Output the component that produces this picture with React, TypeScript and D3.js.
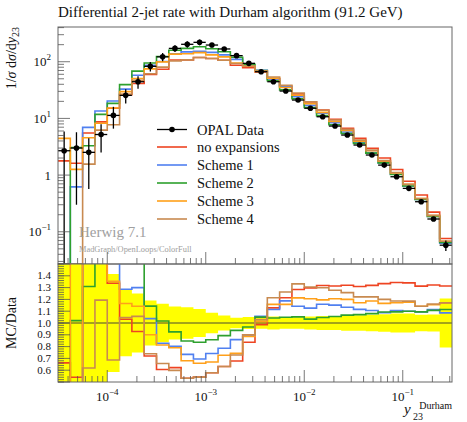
import React from 'react'
import * as d3 from 'd3'

// bin edges in log10(y23)
const binEdgesLog = [
  -4.5, -4.375, -4.25, -4.125, -4, -3.875, -3.75, -3.625, -3.5, -3.375, -3.25,
  -3.125, -3, -2.875, -2.75, -2.625, -2.5, -2.375, -2.25, -2.125, -2, -1.875,
  -1.75, -1.625, -1.5, -1.375, -1.25, -1.125, -1, -0.875, -0.75, -0.625, -0.5
]

const opalData = [
  2.69, 3.0, 2.52, 5.2, 11.3, 25.5, 44.4, 83, 122, 172, 203, 220, 197, 168, 128,
  93.7, 66.7, 44.4, 30.4, 21.1, 15.1, 10.7, 7.33, 5.09, 3.39, 2.26, 1.5, 0.935,
  0.583, 0.339, 0.168, 0.058
]
const opalErr = [
  3.2, 2.7, 1.95, 2.7, 4.7, 7.2, 11.1, 15.8, 20, 24, 27, 26, 17, 10.6, 5.8, 4.7,
  3.3, 2.4, 1.5, 1.05, 0.83, 0.64, 0.44, 0.33, 0.22, 0.16, 0.11, 0.075, 0.047,
  0.024, 0.012, 0.012
]

const noExpansions = [
  1.78, 1.62, 5.54, 8.7, 15.1, 26.3, 41.2, 59.8, 73.9, 107, 108, 119, 114, 106,
  86.7, 78.4, 65.8, 50.1, 36.9, 27.1, 19.6, 14.1, 9.63, 6.72, 4.44, 2.98, 2.0,
  1.256, 0.781, 0.445, 0.222, 0.0762
]
const scheme1 = [
  0, 0.62, 6.96, 13.5, 20.3, 32.8, 57.7, 86.1, 101, 138, 149, 153, 146, 132, 110,
  84.3, 70.5, 49.5, 36.1, 24.1, 17.0, 12.4, 8.44, 5.77, 3.78, 2.5, 1.63, 1.034,
  0.641, 0.371, 0.187, 0.063
]
const scheme2 = [
  0, 3.06, 3.3, 11.8, 18.4, 39.5, 68.4, 94.9, 124, 159, 172, 184, 169, 150, 120,
  90.5, 70.0, 46.3, 31.9, 22.2, 15.6, 11.2, 7.73, 5.43, 3.63, 2.44, 1.64, 1.023,
  0.641, 0.371, 0.186, 0.0646
]
const scheme3 = [
  4.44, 1.26, 4.56, 8.2, 15.3, 29.7, 50.7, 74.7, 99.3, 136, 138, 145, 132, 122,
  95.1, 83.0, 67.6, 51.4, 35.2, 25.6, 18.2, 12.8, 8.84, 6.11, 3.97, 2.68, 1.75,
  1.095, 0.686, 0.387, 0.194, 0.0679
]
const scheme4 = [
  0, 0, 1.56, 6.21, 7.75, 26.7, 46.9, 61.4, 80.2, 103, 108, 119, 114, 106, 93.3,
  84.3, 68.6, 53.9, 38.4, 28.1, 19.7, 13.9, 9.36, 6.4, 4.14, 2.76, 1.8, 1.109,
  0.691, 0.387, 0.195, 0.0679
]

const seriesNames = ['no expansions', 'Scheme 1', 'Scheme 2', 'Scheme 3', 'Scheme 4']
const seriesValues = [noExpansions, scheme1, scheme2, scheme3, scheme4]
const seriesColors = ['#ee4422', '#5080f0', '#2ea02e', '#ffa01a', '#c88a50']

const mainYTicks = [
  { v: 100, base: '10', sup: '2' },
  { v: 10, base: '10', sup: '1' },
  { v: 1, base: '1', sup: '' },
  { v: 0.1, base: '10', sup: '\u22121' }
]
const xTickLabels = [
  { v: 1e-4, sup: '\u22124' },
  { v: 1e-3, sup: '\u22123' },
  { v: 1e-2, sup: '\u22122' },
  { v: 1e-1, sup: '\u22121' }
]
const ratioTickLabels = [0.6, 0.7, 0.8, 0.9, 1.0, 1.1, 1.2, 1.3, 1.4]

const W = 467
const H = 422
const left = 58
const right = 452
const mainTop = 27
const mainBottom = 264
const ratioBottom = 382
const font = "'Liberation Serif', 'DejaVu Serif', serif"

export default function App() {
  const edges = binEdgesLog.map(l => Math.pow(10, l))
  const x = d3.scaleLog().domain([edges[0], edges[edges.length - 1]]).range([left, right])
  const y = d3.scaleLog().domain([0.027, 410]).range([mainBottom, mainTop])
  const yR = d3.scaleLinear().domain([0.5, 1.5]).range([ratioBottom, mainBottom])

  const stepPath = (vals: number[], ys: (v: number) => number, floor: number) => {
    let d = ''
    vals.forEach((v, i) => {
      const yy = ys(Math.max(v, floor))
      d += `${i === 0 ? 'M' : 'L'}${x(edges[i])},${yy}L${x(edges[i + 1])},${yy}`
    })
    return d
  }

  const xTicks = x.ticks()
  const isMajor = (v: number) => Math.abs(Math.log10(v) - Math.round(Math.log10(v))) < 1e-6
  const yTicks = y.ticks()
  const rMinor = yR.ticks(50)
  const rMajor = yR.ticks(10)

  // yellow band: data relative error
  const bandPath = (() => {
    let top = ''
    let bot = ''
    opalData.forEach((v, i) => {
      const rel = opalErr[i] / v
      const yt = yR(Math.min(1 + rel, 1.5))
      const yb = yR(Math.max(1 - rel, 0.5))
      top += `${i === 0 ? 'M' : 'L'}${x(edges[i])},${yt}L${x(edges[i + 1])},${yt}`
      bot = `L${x(edges[i + 1])},${yb}L${x(edges[i])},${yb}` + bot
    })
    return top + bot + 'Z'
  })()

  const legendX = 157
  const legendY0 = 129.5
  const legendStep = 18

  return (
    <svg width={W} height={H} style={{ display: 'block', fontFamily: font }}>
      <style>{`body{margin:0}`}</style>
      <defs>
        <clipPath id="clipMain">
          <rect x={left} y={mainTop} width={right - left} height={mainBottom - mainTop} />
        </clipPath>
        <clipPath id="clipRatio">
          <rect x={left} y={mainBottom} width={right - left} height={ratioBottom - mainBottom} />
        </clipPath>
      </defs>
      <rect width={W} height={H} fill="#fff" />

      <text x={left} y={17} fontSize={15} fill="#111">
        Differential 2-jet rate with Durham algorithm (91.2 GeV)
      </text>

      {/* main panel */}
      <g clipPath="url(#clipMain)">
        {seriesValues.map((vals, si) => (
          <path
            key={si}
            d={stepPath(vals, y, 0.027)}
            fill="none"
            stroke={seriesColors[si]}
            strokeWidth={1.6}
          />
        ))}
        {opalData.map((v, i) => {
          const cx = Math.sqrt(edges[i] * edges[i + 1])
          const lo = Math.max(v - opalErr[i], 0.027)
          return (
            <g key={i}>
              <line x1={x(cx)} x2={x(cx)} y1={y(v + opalErr[i])} y2={y(lo)} stroke="#000" strokeWidth={1.3} />
              <line x1={x(edges[i])} x2={x(edges[i + 1])} y1={y(v)} y2={y(v)} stroke="#000" strokeWidth={1.3} />
              <circle cx={x(cx)} cy={y(v)} r={2.8} fill="#000" />
            </g>
          )
        })}
      </g>

      {/* legend */}
      <g fontSize={14.5}>
        <line x1={legendX} x2={legendX + 30} y1={legendY0} y2={legendY0} stroke="#000" strokeWidth={1.3} />
        <circle cx={legendX + 15} cy={legendY0} r={2.8} fill="#000" />
        <text x={legendX + 40} y={legendY0} dy="0.35em" fill="#111">OPAL Data</text>
        {seriesNames.map((n, i) => {
          const ly = legendY0 + legendStep * (i + 1) - 0.5
          return (
            <g key={n}>
              <line x1={legendX} x2={legendX + 30} y1={ly} y2={ly} stroke={seriesColors[i]} strokeWidth={1.6} />
              <text x={legendX + 40} y={ly} dy="0.35em" fill="#111">{n}</text>
            </g>
          )
        })}
      </g>

      <text x={79} y={237} fontSize={15} fill="#a0a0a0">Herwig 7.1</text>
      <text x={79} y={252} fontSize={8.4} fill="#a0a0a0">MadGraph/OpenLoops/ColorFull</text>

      {/* main axes */}
      <rect x={left} y={mainTop} width={right - left} height={mainBottom - mainTop} fill="none" stroke="#666" strokeWidth={1} />
      {yTicks.map((t, i) => (
        <line key={i} x1={left} x2={left + (isMajor(t) ? 12 : 6)} y1={y(t)} y2={y(t)} stroke="#555" strokeWidth={0.8} />
      ))}
      {xTicks.map((t, i) => (
        <line key={i} x1={x(t)} x2={x(t)} y1={mainBottom} y2={mainBottom - (isMajor(t) ? 12 : 6)} stroke="#555" strokeWidth={0.8} />
      ))}
      {mainYTicks.map((t, i) => (
        <text key={i} x={51} y={y(t.v)} dy="0.35em" textAnchor="end" fontSize={13} fill="#111">
          {t.base}
          {t.sup && <tspan dy="-6" fontSize={9}>{t.sup}</tspan>}
        </text>
      ))}
      <text transform={`translate(16,${mainTop}) rotate(-90)`} textAnchor="end" fontSize={14} fill="#111">
        1/<tspan fontStyle="italic">σ</tspan> d<tspan fontStyle="italic">σ</tspan>/d<tspan fontStyle="italic">y</tspan>
        <tspan dy="3" fontSize={10}>23</tspan>
      </text>

      {/* ratio panel */}
      <path d={bandPath} fill="#ffff00" clipPath="url(#clipRatio)" />
      <line x1={left} x2={right} y1={yR(1)} y2={yR(1)} stroke="#4a4a30" strokeWidth={1} />
      <g clipPath="url(#clipRatio)">
        {seriesValues.map((vals, si) => (
          <path
            key={si}
            d={stepPath(vals.map((v, i) => v / opalData[i]), yR, -1)}
            fill="none"
            stroke={seriesColors[si]}
            strokeWidth={1.6}
          />
        ))}
      </g>
      <rect x={left} y={mainBottom} width={right - left} height={ratioBottom - mainBottom} fill="none" stroke="#666" strokeWidth={1} />
      {rMinor.map((t, i) => (
        <line key={i} x1={left} x2={left + 6} y1={yR(t)} y2={yR(t)} stroke="#555" strokeWidth={0.8} />
      ))}
      {rMajor.map((t, i) => (
        <line key={i} x1={left} x2={left + 12} y1={yR(t)} y2={yR(t)} stroke="#555" strokeWidth={0.8} />
      ))}
      {xTicks.map((t, i) => (
        <line key={i} x1={x(t)} x2={x(t)} y1={ratioBottom} y2={ratioBottom - (isMajor(t) ? 12 : 6)} stroke="#555" strokeWidth={0.8} />
      ))}
      {ratioTickLabels.map((t, i) => (
        <text key={i} x={51} y={yR(t)} dy="0.33em" textAnchor="end" fontSize={11} fill="#111">
          {t.toFixed(1)}
        </text>
      ))}
      <text transform={`translate(16,${yR(1)}) rotate(-90)`} textAnchor="middle" fontSize={14} fill="#111">
        MC/Data
      </text>
      {xTickLabels.map((t, i) => (
        <text key={i} x={x(t.v)} y={401} textAnchor="middle" fontSize={13} fill="#111">
          10<tspan dy="-6" fontSize={9}>{t.sup}</tspan>
        </text>
      ))}
      <text x={404} y={414} fontSize={15} fontStyle="italic" fill="#111">y</text>
      <text x={413} y={420} fontSize={10} fill="#111">23</text>
      <text x={right} y={409} textAnchor="end" fontSize={10} fill="#111">Durham</text>
    </svg>
  )
}
